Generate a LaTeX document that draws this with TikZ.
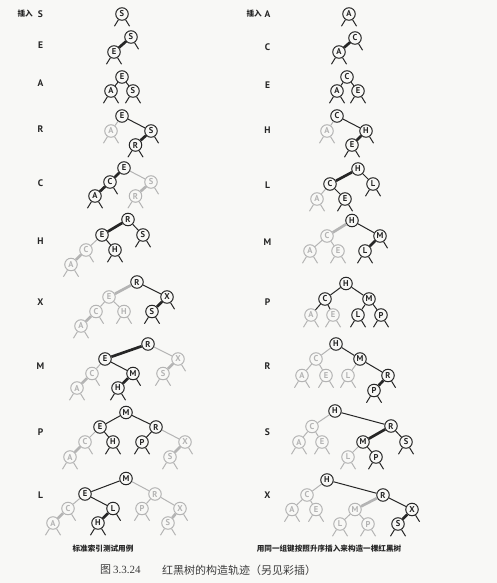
\documentclass[tikz,border=0pt]{standalone}
\usepackage{fontspec}
\setmainfont{PT Sans}
\newfontfamily\cjk{Noto Sans CJK SC}
\newfontfamily\serif{Liberation Serif}
\definecolor{ink}{HTML}{262626}
\definecolor{lite}{HTML}{B4B4B4}
\definecolor{bg}{HTML}{F8F8F6}
\newcommand\NL[2]{\draw[#2] (#1.238) -- ++(-4,6.5);}
\newcommand\NR[2]{\draw[#2] (#1.302) -- ++(4,6.5);}
\newcommand\NB[2]{\NL{#1}{#2}\NR{#1}{#2}}
\begin{document}
\begin{tikzpicture}[x=1pt,y=-1pt,
  bn/.style={circle,draw=ink,line width=1pt,fill=bg,minimum size=12.5pt,inner sep=0pt,font=\bfseries\fontsize{8.5}{8.5}\selectfont,text=ink},
  gn/.style={bn,draw=lite,text=lite},
  bl/.style={draw=ink,line width=1pt},
  gl/.style={draw=lite,line width=1pt},
  rl/.style={draw=ink,line width=2.7pt},
  grl/.style={draw=lite,line width=2.7pt},
  lbl/.style={font=\bfseries\fontsize{9.5}{9.5}\selectfont,text=ink,inner sep=0pt},
  ins/.style={font=\cjk\bfseries\fontsize{7.6}{7.6}\selectfont,text=ink,anchor=east,inner sep=0pt},
  captxt/.style={font=\cjk\bfseries\fontsize{7.6}{7.6}\selectfont,text=ink,inner sep=0pt},
  figtxt/.style={font=\cjk\fontsize{11}{11}\selectfont,text=ink!90,inner sep=0pt,anchor=west},
]
\useasboundingbox (0,0) rectangle (497,583);
\fill[bg] (0,0) rectangle (497,583);

% ---------- left labels ----------
\node[ins] (li) at (33,14) {插入};
\node[lbl] (l1t) at (40.5,14) {S};
\node[lbl] (l2t) at (40.5,45.5) {E};
\node[lbl] (l3t) at (40.5,83) {A};
\node[lbl] (l4t) at (40.5,129) {R};
\node[lbl] (l5t) at (40.5,183) {C};
\node[lbl] (l6t) at (40.5,241) {H};
\node[lbl] (l7t) at (40.5,302) {X};
\node[lbl] (l8t) at (40.5,366) {M};
\node[lbl] (l9t) at (40.5,432) {P};
\node[lbl] (l10t) at (40.5,495) {L};
% ---------- right labels ----------
\node[ins] (ri) at (262,14) {插入};
\node[lbl] (r1t) at (267.5,14) {A};
\node[lbl] (r2t) at (267.5,47) {C};
\node[lbl] (r3t) at (267.5,85) {E};
\node[lbl] (r4t) at (267.5,130) {H};
\node[lbl] (r5t) at (267.5,185) {L};
\node[lbl] (r6t) at (267.5,242) {M};
\node[lbl] (r7t) at (267.5,302) {P};
\node[lbl] (r8t) at (267.5,366) {R};
\node[lbl] (r9t) at (267.5,432) {S};
\node[lbl] (r10t) at (267.5,495) {X};

% ================= LEFT TREES =================
% T1
\node[bn] (l1S) at (122,14) {S}; \NB{l1S}{bl}
% T2
\node[bn] (l2S) at (131,37) {S};
\node[bn] (l2E) at (114,52) {E};
\draw[rl] (l2S) -- (l2E); \NR{l2S}{bl} \NB{l2E}{bl}
% T3
\node[bn] (l3E) at (122,77) {E};
\node[bn] (l3A) at (111,91) {A};
\node[bn] (l3S) at (133,91) {S};
\draw[bl] (l3E) -- (l3A); \draw[bl] (l3E) -- (l3S);
\NB{l3A}{bl} \NB{l3S}{bl}
% T4
\node[bn] (l4E) at (122,116) {E};
\node[gn] (l4A) at (111,131) {A};
\node[bn] (l4S) at (151,131) {S};
\node[bn] (l4R) at (135.5,145) {R};
\draw[gl] (l4E) -- (l4A); \draw[bl] (l4E) -- (l4S); \draw[rl] (l4S) -- (l4R);
\NB{l4A}{gl} \NR{l4S}{bl} \NB{l4R}{bl}
% T5
\node[bn] (l5E) at (124,168) {E};
\node[bn] (l5C) at (110,182) {C};
\node[bn] (l5A) at (95,196) {A};
\node[gn] (l5S) at (151,182) {S};
\node[gn] (l5R) at (135.5,196) {R};
\draw[rl] (l5E) -- (l5C); \draw[rl] (l5C) -- (l5A);
\draw[gl] (l5E) -- (l5S); \draw[grl] (l5S) -- (l5R);
\NR{l5C}{bl} \NB{l5A}{bl} \NR{l5S}{gl} \NB{l5R}{gl}
% T6
\node[bn] (l6R) at (128,219.5) {R};
\node[bn] (l6E) at (102,235) {E};
\node[bn] (l6S) at (143,235) {S};
\node[gn] (l6C) at (86,250) {C};
\node[bn] (l6H) at (115,250) {H};
\node[gn] (l6A) at (71,264.5) {A};
\draw[rl] (l6R) -- (l6E); \draw[bl] (l6R) -- (l6S);
\draw[gl] (l6E) -- (l6C); \draw[bl] (l6E) -- (l6H); \draw[grl] (l6C) -- (l6A);
\NB{l6S}{bl} \NB{l6H}{bl} \NR{l6C}{gl} \NB{l6A}{gl}
% T7
\node[bn] (l7R) at (137,282) {R};
\node[gn] (l7E) at (109,297) {E};
\node[bn] (l7X) at (167,297) {X};
\node[gn] (l7C) at (96,311.5) {C};
\node[gn] (l7H) at (124,311.5) {H};
\node[bn] (l7S) at (152,311.5) {S};
\node[gn] (l7A) at (81,326) {A};
\draw[grl] (l7R) -- (l7E); \draw[bl] (l7R) -- (l7X);
\draw[gl] (l7E) -- (l7C); \draw[gl] (l7E) -- (l7H);
\draw[grl] (l7C) -- (l7A); \draw[rl] (l7X) -- (l7S);
\NR{l7X}{bl} \NB{l7S}{bl} \NB{l7H}{gl} \NR{l7C}{gl} \NB{l7A}{gl}
% T8
\node[bn] (l8R) at (148,344) {R};
\node[bn] (l8E) at (105,359) {E};
\node[gn] (l8X) at (178,359) {X};
\node[gn] (l8C) at (92,373.5) {C};
\node[bn] (l8M) at (133,373.5) {M};
\node[gn] (l8S) at (163,373.5) {S};
\node[gn] (l8A) at (77,388) {A};
\node[bn] (l8H) at (118,388) {H};
\draw[rl] (l8R) -- (l8E); \draw[gl] (l8R) -- (l8X);
\draw[gl] (l8E) -- (l8C); \draw[bl] (l8E) -- (l8M);
\draw[rl] (l8M) -- (l8H); \draw[grl] (l8X) -- (l8S); \draw[grl] (l8C) -- (l8A);
\NR{l8M}{bl} \NB{l8H}{bl} \NR{l8C}{gl} \NB{l8A}{gl} \NR{l8X}{gl} \NB{l8S}{gl}
% T9
\node[bn] (l9M) at (126,412.5) {M};
\node[bn] (l9E) at (100,427) {E};
\node[bn] (l9R) at (156,427) {R};
\node[gn] (l9C) at (85,442) {C};
\node[bn] (l9H) at (113,442) {H};
\node[bn] (l9P) at (142,442) {P};
\node[gn] (l9X) at (185,442) {X};
\node[gn] (l9A) at (70,457) {A};
\node[gn] (l9S) at (170,457) {S};
\draw[bl] (l9M) -- (l9E); \draw[bl] (l9M) -- (l9R);
\draw[bl] (l9E) -- (l9H); \draw[bl] (l9R) -- (l9P);
\draw[gl] (l9E) -- (l9C); \draw[gl] (l9R) -- (l9X);
\draw[grl] (l9C) -- (l9A); \draw[grl] (l9X) -- (l9S);
\NB{l9H}{bl} \NB{l9P}{bl} \NR{l9C}{gl} \NB{l9A}{gl} \NR{l9X}{gl} \NB{l9S}{gl}
% T10
\node[bn] (l10M) at (126,478.5) {M};
\node[bn] (l10E) at (85,494) {E};
\node[gn] (l10R) at (155,494) {R};
\node[gn] (l10C) at (68,508.5) {C};
\node[bn] (l10L) at (113,508.5) {L};
\node[gn] (l10P) at (142,508.5) {P};
\node[gn] (l10X) at (180,508.5) {X};
\node[gn] (l10A) at (53,523) {A};
\node[bn] (l10H) at (98,523) {H};
\node[gn] (l10S) at (168,523) {S};
\draw[bl] (l10M) -- (l10E); \draw[bl] (l10E) -- (l10L); \draw[rl] (l10L) -- (l10H);
\draw[gl] (l10M) -- (l10R); \draw[gl] (l10E) -- (l10C);
\draw[gl] (l10R) -- (l10P); \draw[gl] (l10R) -- (l10X);
\draw[grl] (l10C) -- (l10A); \draw[grl] (l10X) -- (l10S);
\NR{l10L}{bl} \NB{l10H}{bl} \NR{l10C}{gl} \NB{l10A}{gl} \NB{l10P}{gl} \NR{l10X}{gl} \NB{l10S}{gl}

% ================= RIGHT TREES =================
% R1
\node[bn] (r1A) at (349,14) {A}; \NB{r1A}{bl}
% R2
\node[bn] (r2C) at (355,38) {C};
\node[bn] (r2A) at (339,52) {A};
\draw[rl] (r2C) -- (r2A); \NR{r2C}{bl} \NB{r2A}{bl}
% R3
\node[bn] (r3C) at (347,77) {C};
\node[bn] (r3A) at (337,91) {A};
\node[bn] (r3E) at (358,91) {E};
\draw[bl] (r3C) -- (r3A); \draw[bl] (r3C) -- (r3E);
\NB{r3A}{bl} \NB{r3E}{bl}
% R4
\node[bn] (r4C) at (337,116) {C};
\node[gn] (r4A) at (327,131) {A};
\node[bn] (r4H) at (366,131) {H};
\node[bn] (r4E) at (352,145) {E};
\draw[gl] (r4C) -- (r4A); \draw[bl] (r4C) -- (r4H); \draw[rl] (r4H) -- (r4E);
\NB{r4A}{gl} \NR{r4H}{bl} \NB{r4E}{bl}
% R5
\node[bn] (r5H) at (358,169) {H};
\node[bn] (r5C) at (330,184) {C};
\node[bn] (r5L) at (373,184) {L};
\node[gn] (r5A) at (317,199) {A};
\node[bn] (r5E) at (345,199) {E};
\draw[rl] (r5H) -- (r5C); \draw[bl] (r5H) -- (r5L);
\draw[gl] (r5C) -- (r5A); \draw[bl] (r5C) -- (r5E);
\NB{r5L}{bl} \NB{r5E}{bl} \NB{r5A}{gl}
% R6
\node[bn] (r6H) at (352,220.5) {H};
\node[gn] (r6C) at (327,236) {C};
\node[bn] (r6M) at (380,236) {M};
\node[gn] (r6A) at (310,251) {A};
\node[gn] (r6E) at (338,251) {E};
\node[bn] (r6L) at (365,251) {L};
\draw[grl] (r6H) -- (r6C); \draw[bl] (r6H) -- (r6M);
\draw[gl] (r6C) -- (r6A); \draw[gl] (r6C) -- (r6E); \draw[rl] (r6M) -- (r6L);
\NR{r6M}{bl} \NB{r6L}{bl} \NB{r6A}{gl} \NB{r6E}{gl}
% R7
\node[bn] (r7H) at (346,283.5) {H};
\node[bn] (r7C) at (325,299) {C};
\node[bn] (r7M) at (369,299) {M};
\node[gn] (r7A) at (311,315) {A};
\node[gn] (r7E) at (333,315) {E};
\node[bn] (r7L) at (358,315) {L};
\node[bn] (r7P) at (381,315) {P};
\draw[bl] (r7H) -- (r7C); \draw[bl] (r7H) -- (r7M);
\draw[bl] (r7C) -- (r7A); \draw[bl] (r7C) -- (r7E);
\draw[bl] (r7M) -- (r7L); \draw[bl] (r7M) -- (r7P);
\NB{r7L}{bl} \NB{r7P}{bl} \NB{r7A}{gl} \NB{r7E}{gl}
% R8
\node[bn] (r8H) at (336,344) {H};
\node[gn] (r8C) at (316,359) {C};
\node[bn] (r8M) at (360,359) {M};
\node[gn] (r8A) at (302,375.5) {A};
\node[gn] (r8E) at (326,375.5) {E};
\node[gn] (r8L) at (348,375.5) {L};
\node[bn] (r8R) at (388,375.5) {R};
\node[bn] (r8P) at (374,390.5) {P};
\draw[gl] (r8H) -- (r8C); \draw[gl] (r8C) -- (r8A); \draw[gl] (r8C) -- (r8E);
\draw[gl] (r8M) -- (r8L); \draw[bl] (r8H) -- (r8M); \draw[bl] (r8M) -- (r8R);
\draw[rl] (r8R) -- (r8P);
\NR{r8R}{bl} \NB{r8P}{bl} \NB{r8A}{gl} \NB{r8E}{gl} \NB{r8L}{gl}
% R9
\node[bn] (r9H) at (335,411) {H};
\node[gn] (r9C) at (312,426.5) {C};
\node[bn] (r9R) at (391,426) {R};
\node[gn] (r9A) at (299,442) {A};
\node[gn] (r9E) at (322,442) {E};
\node[bn] (r9M) at (363,442) {M};
\node[bn] (r9S) at (406,442) {S};
\node[gn] (r9L) at (348,457) {L};
\node[bn] (r9P) at (376,457) {P};
\draw[gl] (r9H) -- (r9C); \draw[gl] (r9C) -- (r9A); \draw[gl] (r9C) -- (r9E);
\draw[bl] (r9H) -- (r9R); \draw[rl] (r9R) -- (r9M); \draw[bl] (r9R) -- (r9S);
\draw[gl] (r9M) -- (r9L); \draw[bl] (r9M) -- (r9P);
\NB{r9S}{bl} \NB{r9P}{bl} \NB{r9A}{gl} \NB{r9E}{gl} \NB{r9L}{gl}
% R10
\node[bn] (r10H) at (327,480) {H};
\node[gn] (r10C) at (307,495) {C};
\node[bn] (r10R) at (383,495) {R};
\node[gn] (r10A) at (292,509.5) {A};
\node[gn] (r10E) at (316,509.5) {E};
\node[gn] (r10M) at (355,509.5) {M};
\node[bn] (r10X) at (412,509.5) {X};
\node[gn] (r10L) at (340,524) {L};
\node[gn] (r10P) at (368,524) {P};
\node[bn] (r10S) at (398,524) {S};
\draw[gl] (r10H) -- (r10C); \draw[gl] (r10C) -- (r10A); \draw[gl] (r10C) -- (r10E);
\draw[bl] (r10H) -- (r10R); \draw[grl] (r10R) -- (r10M); \draw[bl] (r10R) -- (r10X);
\draw[rl] (r10X) -- (r10S); \draw[gl] (r10M) -- (r10L); \draw[gl] (r10M) -- (r10P);
\NR{r10X}{bl} \NB{r10S}{bl} \NB{r10A}{gl} \NB{r10E}{gl} \NB{r10L}{gl} \NB{r10P}{gl}

% ---------- captions ----------
\node[captxt] (capl) at (103,549) {标准索引测试用例};
\node[captxt] (capr) at (329,549) {用同一组键按照升序插入来构造一棵红黑树};
\node[figtxt] (fign) at (100,570) {图\,{\serif 3.3.24}};
\node[figtxt] (figt) at (162,570) {红黑树的构造轨迹（另见彩插）};
\end{tikzpicture}
\end{document}
